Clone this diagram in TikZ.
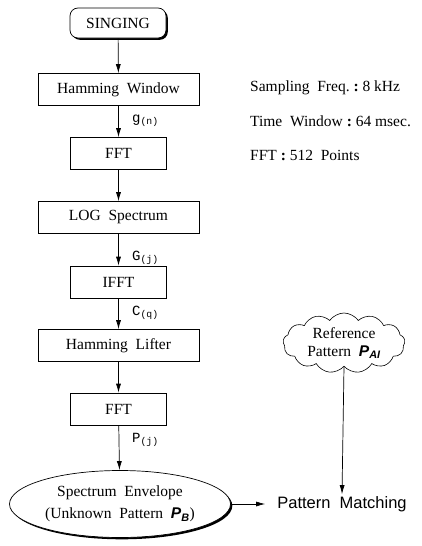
\documentclass[tikz,border=0pt]{standalone}
\usepackage{fontspec}
\setmainfont{Liberation Serif}
\setsansfont{Liberation Sans}
\setmonofont{Liberation Mono}
\usetikzlibrary{arrows.meta,shapes.geometric,shapes.symbols,shadows}
\begin{document}
\begin{tikzpicture}[x=1pt,y=-1pt,
  every node/.style={font=\fontsize{15.5}{18}\selectfont},
  procbox/.style={draw,line width=0.7pt,minimum height=32pt,inner sep=0pt,fill=white},
  widebox/.style={procbox,minimum width=161pt},
  narrowbox/.style={procbox,minimum width=96pt},
  shad/.style={drop shadow={shadow xshift=1.8pt,shadow yshift=-1.8pt,fill=black,opacity=1}},
  flow/.style={line width=0.7pt,-{Latex[length=9pt,width=5pt]}},
  sig/.style={anchor=west,font=\fontsize{14}{16}\ttfamily,inner sep=0pt},
  info/.style={anchor=west,inner sep=0pt,font=\fontsize{15.5}{18}\selectfont}
]
\useasboundingbox (0,0) rectangle (422,546);

\node[draw,line width=0.7pt,rounded corners=8pt,fill=white,shad,minimum width=96pt,minimum height=30pt,inner sep=0pt] (sing) at (118,23) {SINGING};
\node[widebox] (hw) at (118.5,89.5) {Hamming\ \ Window};
\node[narrowbox] (fft1) at (118.5,153.5) {FFT};
\node[widebox] (log) at (118.5,217.5) {LOG\ \ Spectrum};
\node[narrowbox] (ifft) at (118.5,282) {IFFT};
\node[widebox] (hl) at (118.5,345.5) {Hamming\ \ Lifter};
\node[narrowbox] (fft2) at (118.5,409) {FFT};
\node[ellipse,draw,line width=0.7pt,fill=white,shad,minimum width=221pt,minimum height=67pt,inner sep=0pt,align=center] (env) at (120,504)
  {Spectrum\ \ Envelope\\[4pt](Unknown\ \ Pattern\ \ \textsf{\bfseries\itshape P\textsubscript{B}})};

\node[cloud,draw,line width=0.6pt,cloud puffs=13,cloud puff arc=110,aspect=2.2,minimum width=122pt,minimum height=60pt,inner sep=0pt,align=center] (ref) at (344,343)
  {Reference\\Pattern\ \ \textsf{\bfseries\itshape P\textsubscript{AI}}};
\node[font=\fontsize{16.5}{19}\sffamily,inner sep=2pt] (pm) at (342,504) {Pattern\ \ Matching};

\draw[flow] (sing) -- (hw);
\draw[flow] (hw) -- (fft1);
\draw[flow] (fft1) -- (log);
\draw[flow] (log) -- (ifft);
\draw[flow] (ifft) -- (hl);
\draw[flow] (hl) -- (fft2);
\draw[flow] (fft2) -- (env);
\draw[flow] (env.east) -- ([xshift=-10pt]pm.west);
\draw[flow] (ref.south) -- (pm.north);

\node[sig] (lg) at (132,121) {g\textsubscript{(n)}};
\node[sig] (lG) at (132,258) {G\textsubscript{(j)}};
\node[sig] (lC) at (132,313) {C\textsubscript{(q)}};
\node[sig] (lP) at (132,440) {P\textsubscript{(j)}};

\node[info] (t1) at (250,88) {Sampling\ \ Freq.\ \textbf{:}\ 8 kHz};
\node[info] (t2) at (250,121) {Time\ \ Window\ \textbf{:}\ 64 msec.};
\node[info] (t3) at (250,155) {FFT\ \textbf{:}\ 512\ \ Points};
\end{tikzpicture}
\end{document}
